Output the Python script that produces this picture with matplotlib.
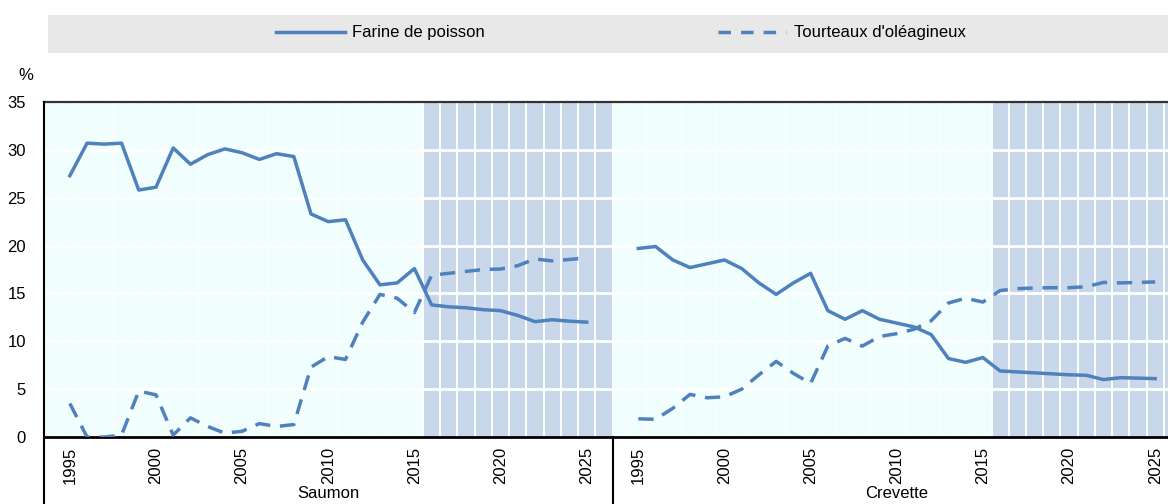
import numpy as np
import matplotlib.pyplot as plt
from matplotlib.patches import Rectangle
from matplotlib.lines import Line2D

plt.rcParams['font.family'] = ['Liberation Sans', 'DejaVu Sans']

# Data
years = list(range(1995, 2026))
panels = ['Saumon', 'Crevette']
series = ['Farine de poisson', "Tourteaux d'oléagineux"]

saumon_farine = [27.3, 30.7, 30.6, 30.7, 25.8, 26.1, 30.2, 28.5, 29.5, 30.1,
                 29.7, 29.0, 29.6, 29.3, 23.3, 22.5, 22.7, 18.5, 15.9, 16.1,
                 17.6, 13.8, 13.6, 13.5, 13.3, 13.2, 12.7, 12.05, 12.25, 12.1, 12.0]
saumon_tourteaux = [3.5, 0.0, 0.0, 0.2, 4.8, 4.4, 0.2, 2.0, 1.1, 0.4,
                    0.6, 1.4, 1.1, 1.3, 7.3, 8.4, 8.1, 12.0, 14.9, 14.5,
                    13.0, 16.9, 17.1, 17.3, 17.5, 17.55, 17.9, 18.6, 18.4, 18.55, 18.7]
crevette_farine = [19.7, 19.9, 18.5, 17.7, 18.1, 18.5, 17.6, 16.1, 14.9, 16.1,
                   17.1, 13.2, 12.3, 13.2, 12.3, 11.9, 11.5, 10.7, 8.2, 7.8,
                   8.3, 6.9, 6.8, 6.7, 6.6, 6.5, 6.45, 6.0, 6.2, 6.15, 6.1]
crevette_tourteaux = [1.9, 1.85, 3.0, 4.45, 4.1, 4.2, 5.0, 6.5, 7.9, 6.65,
                      5.6, 9.5, 10.3, 9.5, 10.5, 10.8, 11.25, 12.15, 14.0, 14.5,
                      14.1, 15.3, 15.5, 15.57, 15.6, 15.6, 15.7, 16.15, 16.1, 16.15, 16.2]

data = {
    'Saumon': (saumon_farine, saumon_tourteaux),
    'Crevette': (crevette_farine, crevette_tourteaux),
}

first_year, last_year = 1994, 2026   # padded category range per panel
proj_start = 2016
n_cat = last_year - first_year + 1

blue = '#4F81BD'
cyan_bg = '#F0FEFE'
proj_bg = '#C8D7EA'
dash = (0, (4.4, 2.8))
fs = 12

fig = plt.figure(figsize=(11.68, 5.04), dpi=100)
ax = fig.add_axes([44 / 1168, 1 - 437 / 504, (1181 - 44) / 1168, 335 / 504])
ax.set_facecolor(cyan_bg)

xticks, xlabels = [], []
for p, name in enumerate(panels):
    off = p * n_cat
    x = [off + (y - first_year) for y in years]
    farine, tourteaux = data[name]
    ax.plot(x, farine, color=blue, lw=2.5, zorder=4)
    ax.plot(x, tourteaux, color=blue, lw=2.5, linestyle=dash, zorder=4)
    p0 = off + proj_start - first_year - 0.5
    p1 = off + n_cat - 0.5
    ax.axvspan(p0, p1, color=proj_bg, lw=0, zorder=0.5)
    # category gridlines: strong in projection, faint in history
    for k in range(n_cat + 1):
        xb = off + k - 0.5
        c = 'white' if xb >= p0 else '#F9FFFF'
        ax.axvline(xb, color=c, lw=1.4, zorder=1)
    for y in range(1995, 2026, 5):
        xticks.append(off + y - first_year)
        xlabels.append(str(y))
    ax.text(off + (n_cat - 1) / 2, -0.17, name, transform=ax.get_xaxis_transform(),
            ha='center', va='center', fontsize=fs)

for v in range(5, 35, 5):
    ax.axhline(v, color='white', lw=2, zorder=1.5)

ax.set_xlim(-0.5, 2 * n_cat - 0.5)
ax.set_ylim(0, 35)
ax.set_yticks(range(0, 36, 5))
ax.set_xticks(xticks)
ax.set_xticklabels(xlabels, rotation=90)
ax.tick_params(axis='both', length=0, labelsize=fs)
ax.tick_params(axis='y', pad=13)
ax.tick_params(axis='x', pad=7)

ax.spines['right'].set_visible(False)
ax.spines['left'].set_visible(False)
ax.spines['top'].set_color('#333333')
ax.spines['top'].set_linewidth(1.6)
ax.spines['bottom'].set_linewidth(2)

# left line and panel separator extend into the label area
ax.add_line(Line2D([-0.5, -0.5], [1, -0.21], transform=ax.get_xaxis_transform(),
                   color='black', lw=1.5, clip_on=False, zorder=6))
ax.add_line(Line2D([n_cat - 0.5, n_cat - 0.5], [0, -0.21], transform=ax.get_xaxis_transform(),
                   color='black', lw=1.5, clip_on=False, zorder=6))

fig.text(26 / 1168, 1 - 75 / 504, '%', ha='center', va='center', fontsize=fs)

# legend band
fig.patches.append(Rectangle((48 / 1168, 1 - 53 / 504), 1 - 48 / 1168, 38 / 504,
                             transform=fig.transFigure, facecolor='#E8E8E8',
                             edgecolor='none', zorder=0))
handles = [Line2D([], [], color=blue, lw=2.5),
           Line2D([], [], color=blue, lw=2.5, linestyle=(0, (3.6, 2.9)))]
fig.legend(handles, series, loc='center', bbox_to_anchor=(621 / 1168, 1 - 33 / 504),
           ncol=2, frameon=False, fontsize=fs, handlelength=4.1, handletextpad=0.45,
           columnspacing=14.0)

fig.savefig('out.png', dpi=100)
